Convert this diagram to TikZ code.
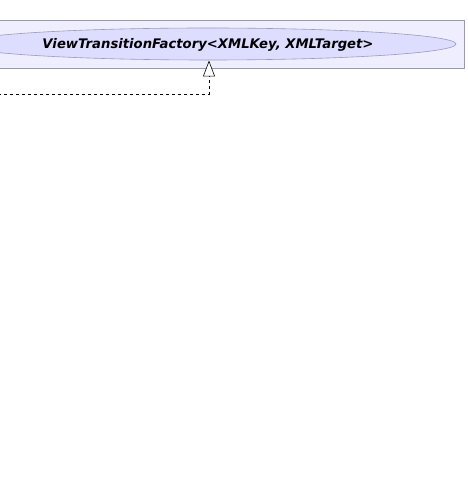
\documentclass[tikz,border=0pt]{standalone}
\usepackage{fontspec}
\setsansfont{DejaVu Sans}
\usetikzlibrary{arrows.meta, positioning, shapes.geometric}
\definecolor{cframe}{HTML}{EEEEFF}
\definecolor{cframeline}{HTML}{9A9AAA}
\definecolor{cclass}{HTML}{DDDDFF}
\definecolor{cclassline}{HTML}{9A9ABB}
\tikzset{
  every picture/.style={font=\sffamily},
  package/.style={draw=cframeline, fill=cframe, line width=0.6pt},
  iface/.style={ellipse, draw=cclassline, fill=cclass, line width=0.6pt, inner sep=0pt,
    minimum width=496pt, minimum height=32pt, font=\sffamily\fontsize{13.2}{15}\selectfont\bfseries\itshape},
  realize/.style={-{Triangle[open, length=16pt, width=12pt, fill=white]}, dashed, line width=0.6pt},
}

\begin{document}
\begin{tikzpicture}[x=1pt, y=-1pt]
  \useasboundingbox (0,0) rectangle (467,502);
  \fill[white] (0,0) rectangle (467,502);
  \draw[package] (-5,20) rectangle (464,68);
  \node[iface, text depth=2pt] (factory) at (208,44) {ViewTransitionFactory<XMLKey, XMLTarget>};
  % realization from the left
  \coordinate (impl) at (-2,94);
  \draw[realize] (impl) -| (209,60.5);
\end{tikzpicture}
\end{document}
